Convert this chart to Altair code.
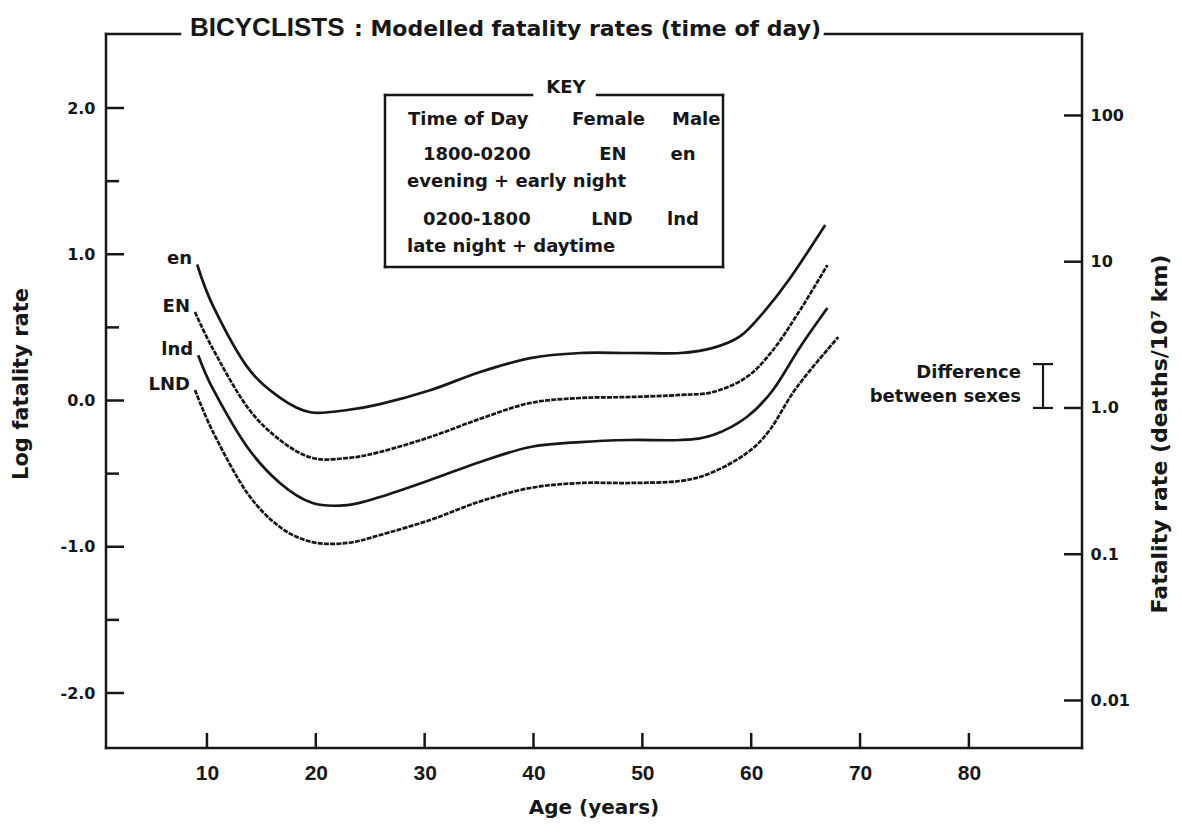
import altair as alt
import pandas as pd

# ---------------- data ----------------
# log10 fatality rate by age, four modelled curves
en_age = [9.1, 10.6, 13.7, 16.7, 19.5, 22.9, 25.9, 30.5, 35.1, 39.7, 44.3, 48.9, 53.5, 56.5, 59.0, 61.1, 63.6, 66.8]
en_val = [0.93, 0.64, 0.23, 0.02, -0.08, -0.065, -0.025, 0.07, 0.195, 0.29, 0.325, 0.325, 0.325, 0.36, 0.44, 0.60, 0.84, 1.20]

EN_age = [8.9, 10.6, 13.7, 16.7, 19.7, 22.9, 25.9, 30.5, 35.1, 39.7, 44.3, 48.9, 53.5, 56.5, 59.6, 62.0, 64.5, 67.0]
EN_val = [0.605, 0.345, -0.044, -0.27, -0.393, -0.393, -0.352, -0.25, -0.125, -0.017, 0.017, 0.024, 0.038, 0.058, 0.161, 0.345, 0.619, 0.926]

lnd_age = [9.2, 10.6, 13.7, 16.7, 19.7, 22.9, 25.9, 30.5, 35.1, 39.7, 44.3, 48.9, 53.5, 56.5, 59.6, 62.0, 64.5, 67.0]
lnd_val = [0.31, 0.072, -0.318, -0.564, -0.701, -0.715, -0.66, -0.544, -0.42, -0.318, -0.284, -0.27, -0.27, -0.236, -0.113, 0.072, 0.366, 0.632]

LND_age = [8.9, 10.6, 13.7, 16.7, 19.7, 22.9, 25.9, 30.5, 35.1, 39.7, 44.3, 48.9, 53.5, 56.5, 59.6, 61.7, 64.2, 68.0]
LND_val = [0.072, -0.222, -0.632, -0.865, -0.968, -0.974, -0.92, -0.817, -0.69, -0.598, -0.564, -0.564, -0.55, -0.489, -0.359, -0.202, 0.092, 0.434]

series_names = ["en", "EN", "lnd", "LND"]
series_sex = ["Male", "Female", "Male", "Female"]

x_tick_values = [10, 20, 30, 40, 50, 60, 70, 80]
left_major = [-2, -1, 0, 1, 2]
left_minor = [-1.5, -0.5, 0.5, 1.5]
right_values = [2, 1, 0, -1, -2]
right_labels = ["100", "10", "1.0", "0.1", "0.01"]
sex_difference = [0.0, 0.3]   # I-bar span, log units

title_main = "BICYCLISTS"
title_sub = ": Modelled fatality rates (time of day)"
x_title = "Age (years)"
y_title = "Log fatality rate"
r_title = "Fatality rate (deaths/10\u2077 km)"
key_title = "KEY"
key_header = ["Time of Day", "Female", "Male"]
key_periods = ["1800-0200", "0200-1800"]
key_female = ["EN", "LND"]
key_male = ["en", "lnd"]
key_desc = ["evening + early night", "late night + daytime"]
diff_text = ["Difference", "between sexes"]

# ---------------- layout / style ----------------
W, H = 976, 714
INK = "#171717"
SANS = "DejaVu Sans"
NARROW = "Liberation Sans Narrow, Liberation Sans"
LW = 2.7

xs = alt.Scale(domain=[0.726, 90.39], nice=False, zero=False)
ys = alt.Scale(domain=[-2.376, 2.506], nice=False, zero=False)
rs = alt.Scale(domain=[-2.325, 2.557], nice=False, zero=False)

x_axis = alt.Axis(values=x_tick_values, title=None, domain=False, ticks=False, tickSize=0,
                  grid=False, labelPadding=14, labelFont=NARROW, labelFontSize=21,
                  labelFontWeight="bold", labelColor=INK, labelBaseline="top")
y_axis = alt.Axis(values=left_major, title=None, orient="left", domain=False, ticks=False,
                  tickSize=0, grid=False, labelPadding=11, labelFont=SANS, labelFontSize=16,
                  labelFontWeight="bold", labelColor=INK,
                  labelExpr="(datum.value < 0 ? '-' : '') + format(abs(datum.value), '.1f')")
r_expr = " : ".join(f"datum.value == {v} ? '{l}'" for v, l in zip(right_values, right_labels)) + " : ''"
r_axis = alt.Axis(values=right_values, title=None, orient="right", domain=False, ticks=False,
                  tickSize=0, grid=False, labelPadding=8, labelFont=SANS, labelFontSize=16,
                  labelFontWeight="bold", labelColor=INK, labelExpr=r_expr)


def one(**kw):
    return pd.DataFrame({k: [v] for k, v in kw.items()})


def seg(x1, y1, x2, y2, w=2.5):
    return alt.Chart(one(k=0)).mark_rule(color=INK, strokeWidth=w, strokeCap="square").encode(
        x=alt.value(x1), x2=alt.value(x2), y=alt.value(y1), y2=alt.value(y2))


def txt(text, x, y, size, align="left", baseline="middle", angle=0, font=SANS):
    return alt.Chart(one(t=text)).mark_text(
        align=align, baseline=baseline, angle=angle, font=font, fontSize=size,
        fontWeight="bold", color=INK).encode(x=alt.value(x), y=alt.value(y), text="t:N")


# ---------------- left (log) layers ----------------
left_layers = []
all_series = [(en_age, en_val), (EN_age, EN_val), (lnd_age, lnd_val), (LND_age, LND_val)]
for (ages, vals), name, sex in zip(all_series, series_names, series_sex):
    df = pd.DataFrame({"age": ages, "v": vals, "s": name})
    mk = dict(interpolate="cardinal", tension=0.0, color=INK, strokeWidth=LW)
    if sex == "Female":
        mk["strokeDash"] = [5, 1.2]
    left_layers.append(alt.Chart(df).mark_line(**mk).encode(
        x=alt.X("age:Q", scale=xs, axis=x_axis), y=alt.Y("v:Q", scale=ys, axis=y_axis)))

lab_df = pd.DataFrame({"age": [a[0] for a, _ in all_series],
                       "v": [v[0] for _, v in all_series],
                       "name": series_names})
left_layers.append(alt.Chart(lab_df).mark_text(
    align="right", baseline="middle", dx=-5, dy=-5, font=SANS, fontSize=18,
    fontWeight="bold", color=INK).encode(
    x=alt.X("age:Q", scale=xs, axis=x_axis), y=alt.Y("v:Q", scale=ys, axis=y_axis), text="name:N"))

left_layers.append(alt.Chart(pd.DataFrame({"v": left_major})).mark_rule(color=INK, strokeWidth=2.5).encode(
    y=alt.Y("v:Q", scale=ys, axis=y_axis), x=alt.value(0), x2=alt.value(18)))
left_layers.append(alt.Chart(pd.DataFrame({"v": left_minor})).mark_rule(color=INK, strokeWidth=2.5).encode(
    y=alt.Y("v:Q", scale=ys, axis=y_axis), x=alt.value(0), x2=alt.value(13)))
left_layers.append(alt.Chart(pd.DataFrame({"a": x_tick_values})).mark_rule(color=INK, strokeWidth=2.5).encode(
    x=alt.X("a:Q", scale=xs, axis=x_axis), y=alt.value(H - 15), y2=alt.value(H)))

left = alt.layer(*left_layers)

# ---------------- right (rate) layers ----------------
right_layers = [
    alt.Chart(pd.DataFrame({"r": right_values})).mark_rule(color=INK, strokeWidth=2.5).encode(
        y=alt.Y("r:Q", scale=rs, axis=r_axis), x=alt.value(W - 18), x2=alt.value(W)),
    alt.Chart(one(lo=sex_difference[0], hi=sex_difference[1])).mark_rule(color=INK, strokeWidth=2.2).encode(
        y=alt.Y("lo:Q", scale=rs, axis=r_axis), y2="hi:Q", x=alt.value(937)),
    alt.Chart(pd.DataFrame({"r": sex_difference})).mark_rule(color=INK, strokeWidth=2.2).encode(
        y=alt.Y("r:Q", scale=rs, axis=r_axis), x=alt.value(927), x2=alt.value(947)),
]
right = alt.layer(*right_layers)

# ---------------- frame, key, titles ----------------
deco = [
    seg(0, 0, 0, H), seg(W, 0, W, H), seg(0, H, W, H),
    seg(0, 0, 74, 0), seg(719, 0, W, 0),
    # key box
    seg(279, 61, 279, 233), seg(617, 61, 617, 233), seg(279, 233, 617, 233),
    seg(279, 61, 426, 61), seg(491, 61, 617, 61),
    txt(key_title, 460, 54, 18, align="center"),
    txt(key_header[0], 302, 86, 18), txt(key_header[1], 466, 86, 18), txt(key_header[2], 566, 86, 18),
    txt(key_periods[0], 317, 121, 18), txt(key_female[0], 507, 121, 18, align="center"),
    txt(key_male[0], 577, 121, 18, align="center"), txt(key_desc[0], 301, 148, 18),
    txt(key_periods[1], 317, 186, 18), txt(key_female[1], 506, 186, 18, align="center"),
    txt(key_male[1], 577, 186, 18, align="center"), txt(key_desc[1], 301, 213, 18),
    # difference annotation
    txt(diff_text[0], 915, 339, 18, align="right"), txt(diff_text[1], 915, 363, 18, align="right"),
    # titles
    txt(title_main, 84, 2, 26, baseline="alphabetic", font="Liberation Sans"),
    txt(title_sub, 248, 2, 22, baseline="alphabetic"),
    txt(x_title, W / 2, 774, 20, align="center"),
    txt(y_title, -84, 350, 21, align="center", angle=270),
    txt(r_title, 1054, 400, 22, align="center", angle=270),
]

chart = alt.layer(left, right, *deco).resolve_scale(y="independent").properties(
    width=W, height=H,
    autosize=alt.AutoSizeParams(type="none"),
    padding={"left": 98, "top": 26, "right": 92, "bottom": 80},
    background="white",
).configure_view(stroke=None)

chart.save("out.html", embed_options={"renderer": "svg", "actions": False})
